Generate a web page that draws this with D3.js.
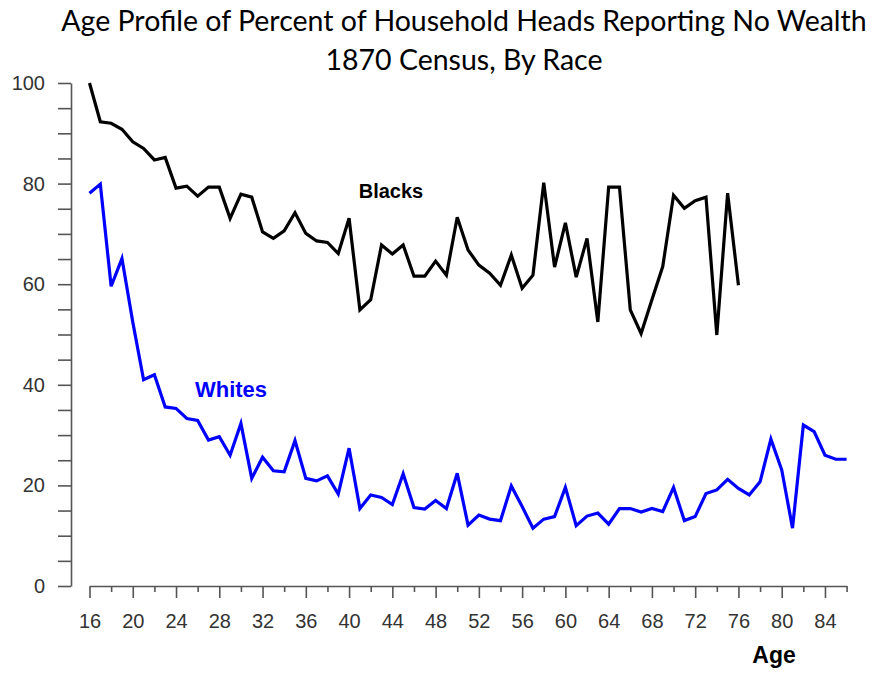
<!DOCTYPE html>
<html>
<head>
<meta charset="utf-8">
<script src="https://cdn.jsdelivr.net/npm/d3@7"></script>
<style>
  body { margin: 0; background: #fff; }
  svg { display: block; }
</style>
</head>
<body>
<svg id="chart"></svg>
<script>
// percent of household heads reporting no wealth, by age (1870 census)
const blackAges = d3.range(16, 77);
const blacks = [
  100, 92.3, 92.0, 90.8, 88.3, 87.0, 84.7, 85.2, 79.1, 79.5,
  77.5, 79.3, 79.3, 73.1, 77.9, 77.3, 70.4, 69.1, 70.6, 74.2,
  70.1, 68.6, 68.3, 66.1, 73.1, 54.9, 56.9, 67.8, 66.0, 67.8,
  61.6, 61.6, 64.6, 61.8, 73.3, 66.8, 63.8, 62.2, 59.8, 65.8,
  59.2, 61.8, 80.2, 63.4, 72.2, 61.4, 69.1, 52.5, 79.3, 79.3,
  54.9, 50.2, 56.9, 63.5, 77.7, 75.1, 76.6, 77.3, 49.9, 78.1,
  59.8
];
const whiteAges = d3.range(16, 87);
const whites = [
  78.1, 79.9, 59.6, 65.1, 52.5, 41.0, 42.0, 35.6, 35.3, 33.3,
  32.9, 29.0, 29.7, 26.0, 32.3, 21.4, 25.6, 22.9, 22.7, 28.9,
  21.4, 20.9, 21.9, 18.3, 27.4, 15.4, 18.1, 17.6, 16.2, 22.3,
  15.6, 15.3, 17.0, 15.4, 22.4, 12.1, 14.1, 13.3, 13.0, 19.9,
  15.8, 11.5, 13.3, 13.8, 19.6, 12.0, 13.9, 14.5, 12.3, 15.4,
  15.4, 14.7, 15.4, 14.8, 19.6, 13.0, 13.8, 18.4, 19.1, 21.2,
  19.4, 18.1, 20.7, 29.2, 23.1, 11.5, 32.0, 30.7, 26.0, 25.2,
  25.2
];
const xTicks = d3.range(16, 87, 2);
const yTicks = d3.range(0, 101, 5);

const W = 877, H = 674;
const svg = d3.select("#chart").attr("width", W).attr("height", H);

const x = d3.scaleLinear().domain([16, 86]).range([89.5, 846.6]);
const y = d3.scaleLinear().domain([0, 100]).range([586, 83]);

// title
svg.append("text")
  .attr("x", 464).attr("y", 31)
  .attr("text-anchor", "middle")
  .style("font-family", "Lato, 'Open Sans', sans-serif")
  .style("font-size", "28.5px")
  .text("Age Profile of Percent of Household Heads Reporting No Wealth");
svg.append("text")
  .attr("x", 464).attr("y", 70)
  .attr("text-anchor", "middle")
  .style("font-family", "Lato, 'Open Sans', sans-serif")
  .style("font-size", "28.5px")
  .text("1870 Census, By Race");

// y axis
const yAxis = svg.append("g")
  .attr("transform", "translate(71,0)")
  .call(d3.axisLeft(y)
    .tickValues(yTicks)
    .tickSize(13)
    .tickSizeOuter(0)
    .tickPadding(13)
    .tickFormat(d => d % 20 === 0 ? d : ""));

// x axis
const xAxis = svg.append("g")
  .attr("transform", "translate(0,586)")
  .call(d3.axisBottom(x)
    .tickValues(xTicks)
    .tickSize(12)
    .tickSizeOuter(0)
    .tickPadding(16)
    .tickFormat(d => d % 4 === 0 && d <= 84 ? d : ""));
xAxis.selectAll(".tick line")
  .attr("y2", d => d % 4 === 0 ? 12 : 6);

[yAxis, xAxis].forEach(g => {
  g.select(".domain").attr("stroke", "#555").attr("stroke-width", 1.6);
  g.selectAll(".tick line").attr("stroke", "#555").attr("stroke-width", 1.6);
  g.selectAll(".tick text")
    .attr("fill", "#333")
    .style("font-family", "'Liberation Sans', Arial, sans-serif")
    .style("font-size", "20px");
});

svg.append("text")
  .attr("x", 774).attr("y", 663)
  .attr("text-anchor", "middle")
  .style("font-family", "'Liberation Sans', Arial, sans-serif")
  .style("font-weight", "bold")
  .style("font-size", "23px")
  .text("Age");

// lines
const line = d3.line()
  .x(d => x(d[0]))
  .y(d => y(d[1]));

svg.append("path")
  .datum(blackAges.map((a, i) => [a, blacks[i]]))
  .attr("fill", "none")
  .attr("stroke", "#000")
  .attr("stroke-width", 3.2)
  .attr("stroke-linejoin", "miter")
  .attr("d", line);

svg.append("path")
  .datum(whiteAges.map((a, i) => [a, whites[i]]))
  .attr("fill", "none")
  .attr("stroke", "#0000ff")
  .attr("stroke-width", 3.2)
  .attr("stroke-linejoin", "miter")
  .attr("d", line);

// series labels
svg.append("text")
  .attr("x", 391).attr("y", 198)
  .attr("text-anchor", "middle")
  .style("font-family", "'Liberation Sans', Arial, sans-serif")
  .style("font-weight", "bold")
  .style("font-size", "20px")
  .text("Blacks");

svg.append("text")
  .attr("x", 231).attr("y", 397)
  .attr("text-anchor", "middle")
  .attr("fill", "#0000ff")
  .style("font-family", "'Liberation Sans', Arial, sans-serif")
  .style("font-weight", "bold")
  .style("font-size", "22px")
  .text("Whites");
</script>
</body>
</html>
